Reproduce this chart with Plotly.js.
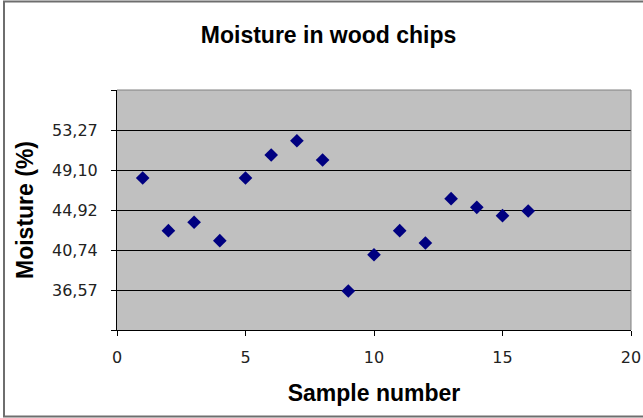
<!DOCTYPE html>
<html>
<head>
<meta charset="utf-8">
<script src="https://cdn.plot.ly/plotly-3.0.1.min.js"></script>
<style>
  html, body { margin: 0; padding: 0; background: #ffffff; }
  #chart { width: 643px; height: 418px; }
</style>
</head>
<body>
<div id="chart"></div>
<script>
// Data
const sampleNumbers = [1, 2, 3, 4, 5, 6, 7, 8, 9, 10, 11, 12, 13, 14, 15, 16];
const moisture = [48.26, 42.76, 43.64, 41.72, 48.26, 50.66, 52.15, 50.14,
                  36.47, 40.25, 42.76, 41.48, 46.10, 45.20, 44.33, 44.82];

// Axis ticks
const yTickVals = [32.395, 36.57, 40.745, 44.92, 49.095, 53.27, 57.445];
const yTickText = ["", "36,57", "40,74", "44,92", "49,10", "53,27", ""];
const xTickVals = [0, 5, 10, 15, 20];
const xTickText = ["0", "5", "10", "15", "20"];

const trace = {
  type: "scatter",
  mode: "markers",
  x: sampleNumbers,
  y: moisture,
  marker: { symbol: "diamond", color: "#000080", size: 10.5, line: { width: 0 } },
  hoverinfo: "x+y"
};

const layout = {
  width: 643,
  height: 418,
  margin: { l: 117, r: 12, t: 90, b: 88, pad: 0 },
  paper_bgcolor: "#ffffff",
  plot_bgcolor: "#c0c0c0",
  showlegend: false,
  title: {
    text: "Moisture in wood chips",
    font: { family: "Liberation Sans, Arial, sans-serif", size: 23, weight: "bold", color: "#000000" },
    x: 0.511, xref: "container", xanchor: "center",
    y: 1 - 35 / 418, yref: "container", yanchor: "middle"
  },
  xaxis: {
    range: [0, 20],
    tickvals: xTickVals,
    ticktext: xTickText,
    ticks: "outside",
    ticklen: 5,
    tickwidth: 1,
    tickcolor: "#000000",
    showgrid: false,
    zeroline: false,
    showline: true,
    linecolor: "#000000",
    linewidth: 1,
    ticklabelstandoff: 8,
    tickfont: { family: "DejaVu Sans, sans-serif", size: 16, color: "#222222" },
    title: {
      text: "Sample number",
      font: { family: "Liberation Sans, Arial, sans-serif", size: 23, weight: "bold", color: "#000000" },
      standoff: 18
    },
    fixedrange: true
  },
  yaxis: {
    range: [32.395, 57.445],
    tickvals: yTickVals,
    ticktext: yTickText,
    ticks: "outside",
    ticklen: 5,
    tickwidth: 1,
    tickcolor: "#000000",
    showgrid: true,
    gridcolor: "#000000",
    gridwidth: 1,
    zeroline: false,
    showline: true,
    linecolor: "#000000",
    linewidth: 1,
    ticklabelstandoff: 10,
    tickfont: { family: "DejaVu Sans, sans-serif", size: 16, color: "#222222" },
    title: {
      text: "Moisture (%)",
      font: { family: "Liberation Sans, Arial, sans-serif", size: 23, weight: "bold", color: "#000000" },
      standoff: 11
    },
    fixedrange: true
  },
  shapes: [
    // gray top and right edges of the plot area
    { type: "line", xref: "paper", yref: "paper", x0: 0, x1: 1, y0: 1, y1: 1,
      line: { color: "#808080", width: 1 }, layer: "above" },
    { type: "line", xref: "paper", yref: "paper", x0: 1, x1: 1, y0: 0, y1: 1,
      line: { color: "#808080", width: 1 }, layer: "above" },
    // outer chart border
    { type: "rect", xref: "paper", yref: "paper",
      x0: (4 - 117) / 514, x1: 1.1, y0: (330 - 416.5) / 240, y1: (330 - 1.5) / 240,
      line: { color: "#6e6e6e", width: 2 }, fillcolor: "rgba(0,0,0,0)", layer: "above" }
  ]
};

Plotly.newPlot("chart", [trace], layout, { displayModeBar: false, staticPlot: false });
</script>
</body>
</html>
